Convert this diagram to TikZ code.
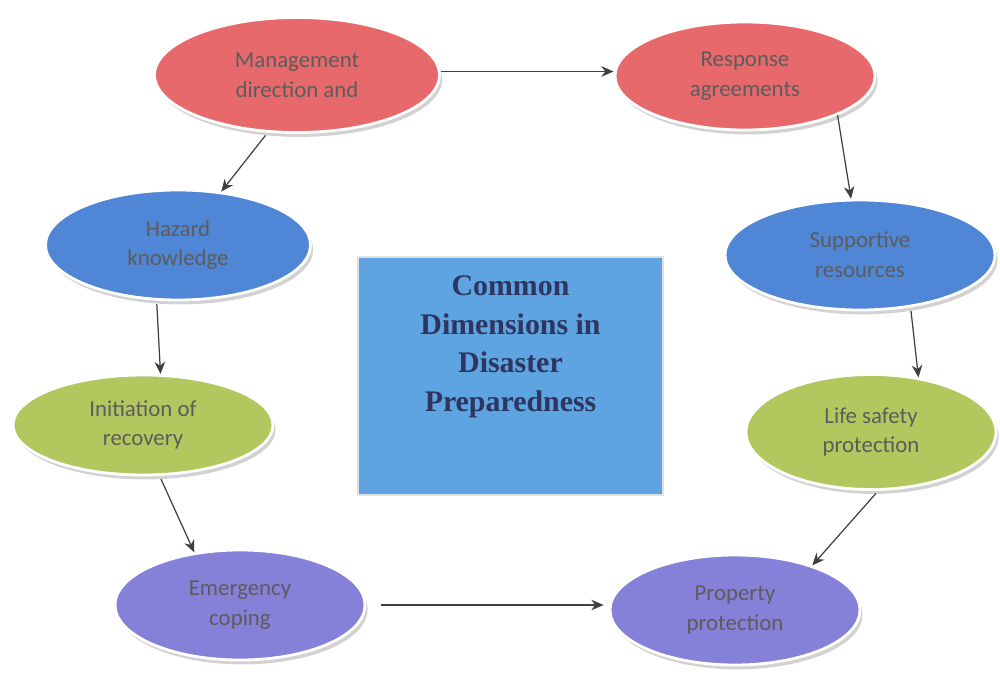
\documentclass[tikz,border=0pt]{standalone}
\usepackage{fontspec}
\setmainfont{Liberation Serif}
\newfontfamily\bubblefont{Carlito}
\usetikzlibrary{shapes.geometric,shadows,arrows.meta}
\definecolor{dimred}{HTML}{E8696B}
\definecolor{dimblue}{HTML}{4F86D6}
\definecolor{dimgreen}{HTML}{B3C75F}
\definecolor{dimpurple}{HTML}{8580D8}
\definecolor{hubblue}{HTML}{5EA4E0}
\definecolor{hubtext}{HTML}{2D3560}

\begin{document}
\begin{tikzpicture}[
  dim/.style={ellipse,draw=white,line width=1.6pt,inner sep=0pt,align=center,
    text=black!64,font=\bubblefont\fontsize{13}{17}\selectfont,
    drop shadow={shadow xshift=1.5pt,shadow yshift=-2.5pt,fill=black!35}},
  hub/.style={rectangle,fill=hubblue,draw=black!12,line width=0.8pt,align=center,
    text=hubtext,font=\bfseries\fontsize{17}{22}\selectfont,
    minimum width=6.1cm,minimum height=4.76cm,text depth=1.3cm},
  link/.style={-{Stealth[length=7pt,width=6pt]},black!75,line width=0.7pt}]
  \useasboundingbox[fill=white] (0,0) rectangle (20,13.5);
  \node[dim,fill=dimred,minimum width=5.7cm,minimum height=2.3cm] (mgmt) at (5.94,12.0) {Management\\direction and};
  \node[dim,fill=dimred,minimum width=5.2cm,minimum height=2.16cm] (resp) at (14.9,11.98) {Response\\agreements};
  \node[dim,fill=dimblue,minimum width=5.3cm,minimum height=2.2cm] (haz) at (3.56,8.6) {Hazard\\knowledge};
  \node[dim,fill=dimblue,minimum width=5.4cm,minimum height=2.2cm] (supp) at (17.2,8.4) {Supportive\\resources};
  \node[dim,fill=dimgreen,minimum width=5.2cm,minimum height=2.0cm] (init) at (2.86,5.0) {Initiation of\\recovery};
  \node[dim,fill=dimgreen,minimum width=5.0cm,minimum height=2.3cm] (life) at (17.42,4.86) {Life safety\\protection};
  \node[dim,fill=dimpurple,minimum width=5.0cm,minimum height=2.2cm] (emer) at (4.8,1.4) {Emergency\\coping};
  \node[dim,fill=dimpurple,minimum width=5.0cm,minimum height=2.2cm] (prop) at (14.7,1.3) {Property\\protection};
  \node[hub] (core) at (10.21,5.98) {Common\\Dimensions in\\Disaster\\Preparedness};

  \draw[link] ([yshift=2pt]mgmt.east) -- ([yshift=2pt]resp.west |- mgmt.east);
  \draw[link,shorten <=2pt] (mgmt.243) -- (haz.51);
  \draw[link] (resp.-23) -- (supp.99);
  \draw[link,shorten <=2pt] (haz.249) -- (init.71);
  \draw[link,shorten <=2pt] (supp.314) -- (life.49);
  \draw[link,shorten <=2pt] (init.288) -- (emer.131);
  \draw[link,shorten <=2pt] (life.277) -- (prop.30);
  \draw[link,shorten <=0.3cm,shorten >=0.1cm] (emer.east) -- (prop.west |- emer.east);
\end{tikzpicture}
\end{document}
